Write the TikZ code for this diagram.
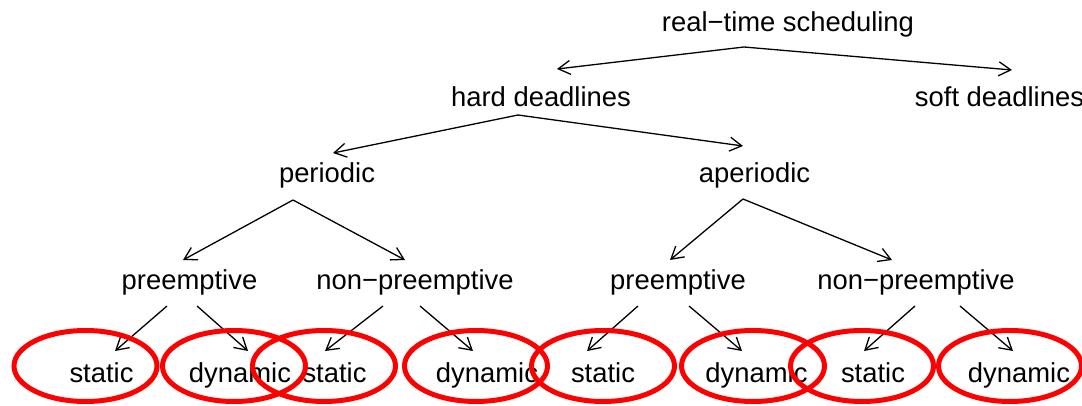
\documentclass[tikz,border=0pt]{standalone}
\usepackage{fontspec}
\setmainfont{Liberation Sans}
\usetikzlibrary{arrows.meta}

\begin{document}
\begin{tikzpicture}[x=1pt, y=-1pt,
    lbl/.style={anchor=base, inner sep=0pt, font=\fontsize{27.4}{30}\selectfont},
    arr/.style={-{Straight Barb[length=12pt,width=14pt]}, line width=1.3pt},
    ring/.style={draw=red, line width=5pt}]
    \useasboundingbox (0,0) rectangle (1082,406);
    %
    \node[lbl] (rts) at (788,32) {real−time scheduling};
    \node[lbl] (hard) at (541,107) {hard deadlines};
    \node[lbl] (soft) at (999.5,107) {soft deadlines};
    %
    \node[lbl] (per) at (327,183) {periodic};
    \node[lbl] (aper) at (754.5,183) {aperiodic};
    %
    \node[lbl] (pre1) at (189.5,290) {preemptive};
    \node[lbl] (np1) at (415,290) {non−preemptive};
    \node[lbl] (pre2) at (678,290) {preemptive};
    \node[lbl] (np2) at (916,290) {non−preemptive};
    %
    \node[lbl] (st1) at (101.5,382) {static};
    \node[lbl] (dy1) at (240,382) {dynamic};
    \node[lbl] (st2) at (334.5,382) {static};
    \node[lbl] (dy2) at (487,382) {dynamic};
    \node[lbl] (st3) at (603,382) {static};
    \node[lbl] (dy3) at (756.5,382) {dynamic};
    \node[lbl] (st4) at (873,382) {static};
    \node[lbl] (dy4) at (1019,382) {dynamic};
    %
    \draw[arr] ([shift={(-44,15)}]rts.base) -- ([shift={(16,-38)}]hard.base);
    \draw[arr] ([shift={(-44,15)}]rts.base) -- ([shift={(12.5,-37)}]soft.base);
    \draw[arr] ([shift={(-23,8)}]hard.base) -- ([shift={(6,-30)}]per.base);
    \draw[arr] ([shift={(-23,8)}]hard.base) -- ([shift={(-11.5,-37)}]aper.base);
    %
    \draw[arr] ([shift={(-34,17)}]per.base) -- ([shift={(-6.5,-30)}]pre1.base);
    \draw[arr] ([shift={(-34,17)}]per.base) -- ([shift={(-10,-30)}]np1.base);
    \draw[arr] ([shift={(-11.5,16)}]aper.base) -- ([shift={(-8,-30)}]pre2.base);
    \draw[arr] ([shift={(-11.5,16)}]aper.base) -- ([shift={(-24,-30)}]np2.base);
    %
    \draw[arr] ([shift={(-22.5,16)}]pre1.base) -- ([shift={(13.5,-31)}]st1.base);
    \draw[arr] ([shift={(7.5,16)}]pre1.base) -- ([shift={(8,-31)}]dy1.base);
    \draw[arr] ([shift={(-32,16)}]np1.base) -- ([shift={(-9.5,-31)}]st2.base);
    \draw[arr] ([shift={(5,16)}]np1.base) -- ([shift={(-14,-31)}]dy2.base);
    \draw[arr] ([shift={(-40,16)}]pre2.base) -- ([shift={(-16,-31)}]st3.base);
    \draw[arr] ([shift={(11,16)}]pre2.base) -- ([shift={(-14.5,-31)}]dy3.base);
    \draw[arr] ([shift={(-1,16)}]np2.base) -- ([shift={(-9,-31)}]st4.base);
    \draw[arr] ([shift={(44,16)}]np2.base) -- ([shift={(-6,-31)}]dy4.base);
    %
    \foreach \cx in {85.5,234,324,476,603,753,862,1010}
        \draw[ring] (\cx,366) ellipse [x radius=71.5pt, y radius=35.5pt];
\end{tikzpicture}
\end{document}
